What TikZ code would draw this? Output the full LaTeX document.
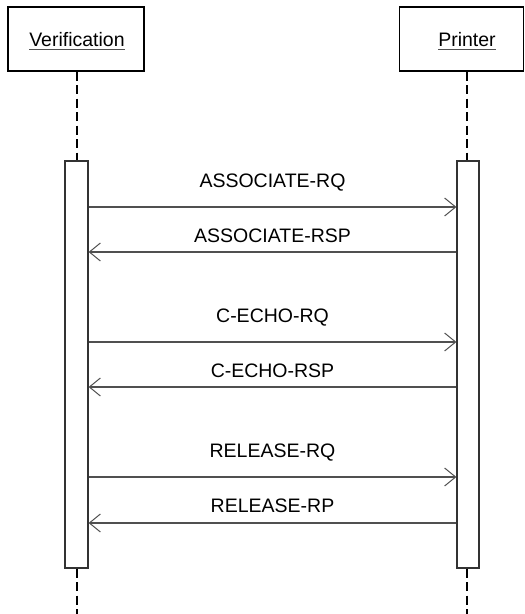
\documentclass[tikz,border=0pt]{standalone}
\usepackage{fontspec}
\setmainfont{Liberation Sans}
\usetikzlibrary{arrows.meta,calc}
\definecolor{msgcol}{HTML}{505050}
\tikzset{
  objbox/.style={draw=black, line width=1.2pt, fill=white, inner sep=0pt},
  actbar/.style={draw=black!80, line width=1.2pt, fill=white, inner sep=0pt, minimum width=22pt},
  lifeline/.style={draw=black, line width=2.6pt, dash pattern=on 9pt off 4.5pt},
  msg/.style={draw=msgcol, line width=1.2pt, -{Straight Barb[length=11pt,width=18pt,line width=1pt]}},
  lbl/.style={font=\fontsize{19.5}{22}\selectfont, inner sep=0pt, anchor=base, text=black},
  ulbl/.style={draw=msgcol, line width=1.2pt}
}
\begin{document}
\begin{tikzpicture}[x=1pt,y=-1pt]
\useasboundingbox (0,0) rectangle (525,614);
% object boxes
\node[objbox, minimum width=136pt, minimum height=64pt] (ver) at (76,39) {};
\node[objbox, minimum width=124pt, minimum height=64pt] (prn) at (461.5,39) {};
\node[lbl] (vert) at (77,46) {Verification};
\node[lbl] (prnt) at (467,46) {Printer};
\draw[ulbl] ($(vert.base west)+(0,3.5)$) -- ($(vert.base east)+(0,3.5)$);
\draw[ulbl] ($(prnt.base west)+(0,3.5)$) -- ($(prnt.base east)+(0,3.5)$);
% activation bars
\node[actbar, minimum width=23pt, minimum height=407pt] (vbar) at (76.5,364.5) {};
\node[actbar, minimum width=22pt, minimum height=407pt] (pbar) at (468,364.5) {};
% lifelines
\coordinate (vend) at (77,614);
\coordinate (pend) at (467,614);
\draw[lifeline] (ver.south -| vert.base) -- (vbar.north -| vert.base);
\draw[lifeline] (vbar.south -| vert.base) -- (vend);
\draw[lifeline] (prn.south -| prnt.base) -- (pbar.north -| prnt.base);
\draw[lifeline] (pbar.south -| prnt.base) -- (pend);
% message levels
\coordinate (m1) at (0,207);
\coordinate (m2) at (0,252);
\coordinate (m3) at (0,342);
\coordinate (m4) at (0,387);
\coordinate (m5) at (0,477);
\coordinate (m6) at (0,523);
\draw[msg] (vbar.east |- m1) -- (pbar.west |- m1);
\draw[msg] (pbar.west |- m2) -- (vbar.east |- m2);
\draw[msg] (vbar.east |- m3) -- (pbar.west |- m3);
\draw[msg] (pbar.west |- m4) -- (vbar.east |- m4);
\draw[msg] (vbar.east |- m5) -- (pbar.west |- m5);
\draw[msg] (pbar.west |- m6) -- (vbar.east |- m6);
% labels
\node[lbl] (l1) at (272.5,187) {ASSOCIATE-RQ};
\node[lbl] (l2) at (272.5,242) {ASSOCIATE-RSP};
\node[lbl] (l3) at (272.5,322) {C-ECHO-RQ};
\node[lbl] (l4) at (272.5,377) {C-ECHO-RSP};
\node[lbl] (l5) at (272.5,457) {RELEASE-RQ};
\node[lbl] (l6) at (272.5,512) {RELEASE-RP};
\end{tikzpicture}
\end{document}
